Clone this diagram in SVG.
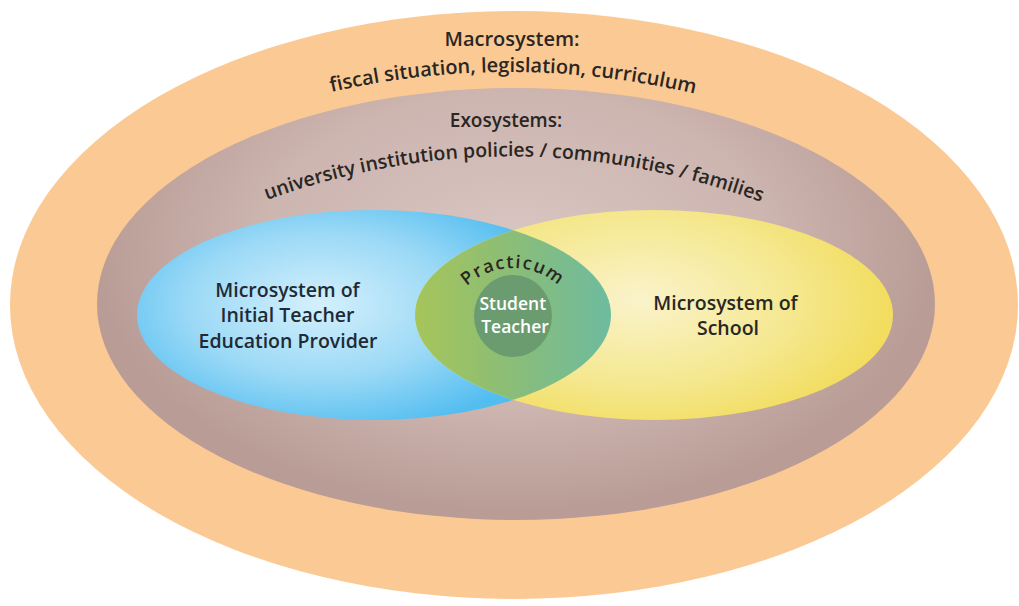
<svg xmlns="http://www.w3.org/2000/svg" xmlns:xlink="http://www.w3.org/1999/xlink" width="1019" height="606" viewBox="0 0 1019 606">
  <style>
    text { font-family: "Open Sans", "Noto Sans", "Liberation Sans", sans-serif; font-weight: 600; text-anchor: middle; }
    .dark { fill: #2a2622; }
    .navy { fill: #1e2a35; }
    .white { fill: #ffffff; }
  </style>
  <defs>
    <radialGradient id="gExo" gradientUnits="userSpaceOnUse" cx="515" cy="250" r="420" gradientTransform="translate(515 250) scale(1 0.62) translate(-515 -250)">
      <stop offset="0" stop-color="#d9c6c2"/>
      <stop offset="0.6" stop-color="#cdb5b0"/>
      <stop offset="1" stop-color="#b99c96"/>
    </radialGradient>
    <radialGradient id="gBlue" gradientUnits="userSpaceOnUse" cx="320" cy="305" r="240" gradientTransform="translate(320 305) scale(1 0.55) translate(-320 -305)">
      <stop offset="0" stop-color="#d4f0fc"/>
      <stop offset="0.55" stop-color="#9bd9f6"/>
      <stop offset="1" stop-color="#52bdf0"/>
    </radialGradient>
    <radialGradient id="gYellow" gradientUnits="userSpaceOnUse" cx="640" cy="300" r="250" gradientTransform="translate(640 300) scale(1 0.55) translate(-640 -300)">
      <stop offset="0" stop-color="#faf3cb"/>
      <stop offset="0.6" stop-color="#f5e891"/>
      <stop offset="1" stop-color="#f2dd5f"/>
    </radialGradient>
    <linearGradient id="gLens" gradientUnits="userSpaceOnUse" x1="415" y1="0" x2="612" y2="0">
      <stop offset="0" stop-color="#a6c55a"/>
      <stop offset="0.5" stop-color="#8abd78"/>
      <stop offset="1" stop-color="#6dbba0"/>
    </linearGradient>
    <clipPath id="clipYellow">
      <ellipse cx="654" cy="315" rx="239" ry="105"/>
    </clipPath>
    <path id="arcMacro" d="M 318 95 Q 512 48 708 97"/>
    <path id="arcExo" d="M 248 207 Q 512 105 780 209"/>
    <path id="arcPract" d="M 445 336 A 68 68 0 0 1 581 336"/>
  </defs>

  <rect width="1019" height="606" fill="#ffffff"/>

  <g id="macrosystem">
    <ellipse cx="514" cy="305" rx="504" ry="294" fill="#fbc994"/>
    <text class="dark" x="512" y="46" font-size="20">Macrosystem:</text>
    <text class="dark" font-size="20"><textPath xlink:href="#arcMacro" href="#arcMacro" startOffset="50%">fiscal situation, legislation, curriculum</textPath></text>
  </g>

  <g id="exosystems">
    <ellipse cx="516" cy="304" rx="419" ry="216" fill="url(#gExo)"/>
    <text class="dark" x="506" y="127" font-size="19">Exosystems:</text>
    <text class="dark" font-size="19.5"><textPath xlink:href="#arcExo" href="#arcExo" startOffset="50%">university institution policies / communities / families</textPath></text>
  </g>

  <g id="microsystem-ite">
    <ellipse cx="374" cy="315" rx="237" ry="105" fill="url(#gBlue)"/>
    <text class="navy" font-size="19.5">
      <tspan x="290" y="297">Microsystem of</tspan>
      <tspan x="290" y="322">Initial Teacher</tspan>
      <tspan x="288" y="348">Education Provider</tspan>
    </text>
  </g>

  <g id="microsystem-school">
    <ellipse cx="654" cy="315" rx="239" ry="105" fill="url(#gYellow)"/>
    <text class="dark" font-size="19.5">
      <tspan x="728" y="310">Microsystem of</tspan>
      <tspan x="728" y="335">School</tspan>
    </text>
  </g>

  <g id="practicum">
    <ellipse cx="374" cy="315" rx="237" ry="105" fill="url(#gLens)" clip-path="url(#clipYellow)"/>
    <text class="dark" font-size="18" letter-spacing="1.5"><textPath xlink:href="#arcPract" href="#arcPract" startOffset="50%">Practicum</textPath></text>
  </g>

  <g id="student-teacher">
    <ellipse cx="513" cy="316" rx="39" ry="41" fill="#6b9c6f"/>
    <text class="white" font-size="17.5">
      <tspan x="515" y="310">Student</tspan>
      <tspan x="515" y="333">Teacher</tspan>
    </text>
  </g>

  <g id="connectors"/>
</svg>
